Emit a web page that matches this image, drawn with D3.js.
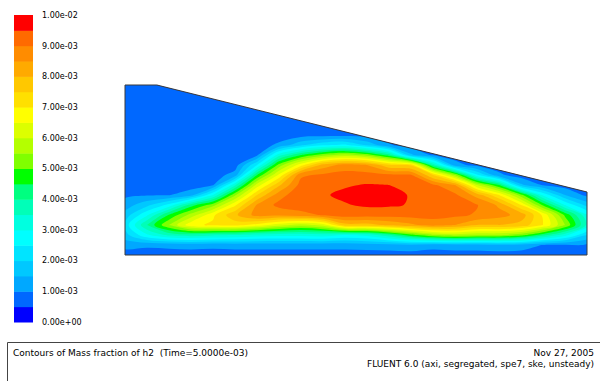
<!DOCTYPE html>
<html>
<head>
<meta charset="utf-8">
<script src="https://cdn.jsdelivr.net/npm/d3@7"></script>
<style>
  body { margin: 0; background: #fff; }
  svg { display: block; }
  text { font-family: "DejaVu Sans", Verdana, sans-serif; fill: #000; }
</style>
</head>
<body>
<div id="chart"></div>
<script>
// mass fraction of h2, in units of 1e-3, sampled every 10 mm
// rows run from the top of the grid (y = 170 mm) down to the axis (y = 0)
// columns run from x = 0 to x = 210 mm
const A = 0.75;
const field = [
  [A,A,A,A,A,A,A,A,A,A,A,A,A,A,A,A,A,A,A,A,A,A],
  [A,A,A,A,A,A,A,A,A,A,A,A,A,A,A,A,A,A,A,A,A,A],
  [A,A,A,A,A,A,A,A,A,A,A,A,A,A,A,A,A,A,A,A,A,A],
  [A,A,A,A,A,A,A,A,A,A,A,A,A,A,A,A,A,A,A,A,A,A],
  [A,A,A,A,A,A,A,A,A,A,A,A,A,A,A,A,A,A,A,A,A,A],
  [A,A,A,A,A,A,A,A,0.78,0.8,0.8,A,A,A,A,A,A,A,A,A,A,A],
  [A,A,A,A,A,A,A,1.1,1.9,2.4,2.6,1.9,1.05,A,A,A,A,A,A,A,A,A],
  [A,A,A,A,A,A,0.9,3.3,4.5,5.3,5.7,5.3,4.2,1.6,0.9,A,A,A,A,A,A,A],
  [A,A,A,A,A,A,2.5,5.2,6.8,8.2,8.7,8.5,7.6,7.4,3.9,1.2,0.8,A,A,A,A,A],
  [A,A,A,A,A,1.2,4.5,6.6,8.9,9.1,9.2,9.2,9.1,9.05,7.5,5.5,2.6,1.1,A,A,A,A],
  [A,A,A,A,0.95,3.4,6.2,7.9,9.2,9.3,9.45,9.53,9.5,9.2,9.1,8.5,6.0,4.5,1.6,0.95,A,A],
  [0.9,0.95,0.97,1.3,3.0,5.4,7.5,8.8,9.35,9.45,9.6,9.72,9.68,9.46,9.3,9.1,8.3,7.0,5.2,2.9,1.5,0.85],
  [1.24,1.85,2.66,4.25,5.3,6.9,8.55,9.15,9.3,9.35,9.46,9.58,9.56,9.47,9.3,9.2,9.03,8.4,7.0,4.9,3.0,1.8],
  [1.72,2.92,4.55,5.7,6.9,7.9,8.7,8.6,8.8,9.05,9.25,9.2,9.2,9.2,9.2,9.1,8.95,8.7,8.3,6.9,4.9,3.1],
  [2.2,4.0,5.5,6.85,7.1,7.2,6.8,6.2,5.8,6.2,7.8,7.8,8.1,8.4,8.7,8.5,8.0,8.0,7.8,7.0,5.5,3.4],
  [1.8,2.92,3.63,3.8,3.6,3.5,3.3,3.2,3.2,3.3,3.0,3.2,3.9,4.8,5.5,5.8,5.6,5.6,5.2,4.2,3.2,2.0],
  [1.19,1.1,1.15,1.2,1.15,1.2,1.2,1.2,1.2,1.2,1.2,1.25,1.3,1.4,1.2,1.3,1.3,1.4,1.3,0.98,0.95,0.9],
  [A,A,A,A,A,A,A,A,A,A,A,A,A,A,A,A,A,A,A,A,A,A]
];
const gridStep = 10;   // mm
const gridTop = 170;   // mm

// fluid domain outline (mm)
const outlineX = [0, 210, 210, 14.5, 0];
const outlineY = [0, 0, 63, 170, 170];

// contour levels (1e-3) and colours, lowest band first
const levels = [0.5, 1.0, 1.5, 2.0, 2.5, 3.0, 3.5, 4.0, 4.5, 5.0,
                5.5, 6.0, 6.5, 7.0, 7.5, 8.0, 8.5, 9.0, 9.5];
const bandColors = ['#0000ff', '#0068ff', '#00a8ff', '#00c8ff', '#00e4ff',
                    '#00ffff', '#00ffe0', '#00ffb8', '#00ff80', '#00ff00',
                    '#80ff00', '#b4ff00', '#dcff00', '#ffff00', '#ffe000',
                    '#ffc800', '#ffaa00', '#ff8c00', '#ff6a00', '#ff0000'];
const legendTicks = [0, 0.001, 0.002, 0.003, 0.004, 0.005, 0.006, 0.007, 0.008, 0.009, 0.01];

const title = 'Contours of Mass fraction of h2  (Time=5.0000e-03)';
const dateText = 'Nov 27, 2005';
const solverText = 'FLUENT 6.0 (axi, segregated, spe7, ske, unsteady)';

const width = 600, height = 381;
const svg = d3.select('#chart').append('svg')
  .attr('width', width)
  .attr('height', height);

const x = d3.scaleLinear().domain([0, 210]).range([125, 587]);
const y = d3.scaleLinear().domain([0, 170]).range([255, 85]);

// ---- contour plot ----
const nx = field[0].length, ny = field.length;
const bands = d3.contours().size([nx, ny]).thresholds(levels)(field.flat());

const ring = d3.line()
  .x(p => x((p[0] - 0.5) * gridStep))
  .y(p => y(gridTop - (p[1] - 0.5) * gridStep))
  .curve(d3.curveCatmullRomClosed.alpha(0.5));

const outline = d3.line()
  .x(i => x(outlineX[i]))
  .y(i => y(outlineY[i]));
const outlinePath = outline(d3.range(outlineX.length)) + 'Z';

svg.append('clipPath').attr('id', 'domain')
  .append('path').attr('d', outlinePath);

const plot = svg.append('g').attr('clip-path', 'url(#domain)');
plot.append('path')
  .attr('d', outlinePath)
  .attr('fill', bandColors[0]);

plot.selectAll('path.band')
  .data(bands)
  .enter().append('path')
  .attr('class', 'band')
  .attr('fill-rule', 'evenodd')
  .attr('fill', (d, i) => bandColors[i + 1])
  .attr('d', d => d.coordinates
    .map(poly => poly.map(r => ring(r.slice(0, -1))).join(''))
    .join(''));

svg.append('path')
  .attr('d', outlinePath)
  .attr('fill', 'none')
  .attr('stroke', '#3a3a3a')
  .attr('stroke-width', 1);

// ---- colour bar ----
const ly = d3.scaleLinear().domain([0, 0.01]).range([322, 15]);
const bandSize = 0.0005;
const legend = svg.append('g');
legend.selectAll('rect')
  .data(bandColors)
  .enter().append('rect')
  .attr('x', 14)
  .attr('width', 19)
  .attr('y', (d, i) => ly((i + 1) * bandSize))
  .attr('height', (d, i) => ly(i * bandSize) - ly((i + 1) * bandSize) + 0.5)
  .attr('fill', d => d);

const sci = d3.format('.2e');
const fmt = v => sci(v).replace(/e([+-])(\d)$/, 'e$10$2');
legend.selectAll('text')
  .data(legendTicks)
  .enter().append('text')
  .attr('x', 42)
  .attr('y', d => ly(d))
  .attr('dy', '0.35em')
  .attr('font-size', '8px')
  .text(fmt);

// ---- title block ----
svg.append('path')
  .attr('d', 'M7.5,381V342.5H600')
  .attr('fill', 'none')
  .attr('stroke', '#444')
  .attr('stroke-width', 1);

svg.append('text')
  .attr('x', 13).attr('y', 356)
  .attr('font-size', '9px')
  .style('white-space', 'pre')
  .text(title);

svg.append('text')
  .attr('x', 594).attr('y', 356)
  .attr('text-anchor', 'end')
  .attr('font-size', '9px')
  .text(dateText);

svg.append('text')
  .attr('x', 594).attr('y', 367)
  .attr('text-anchor', 'end')
  .attr('font-size', '9px')
  .text(solverText);
</script>
</body>
</html>
